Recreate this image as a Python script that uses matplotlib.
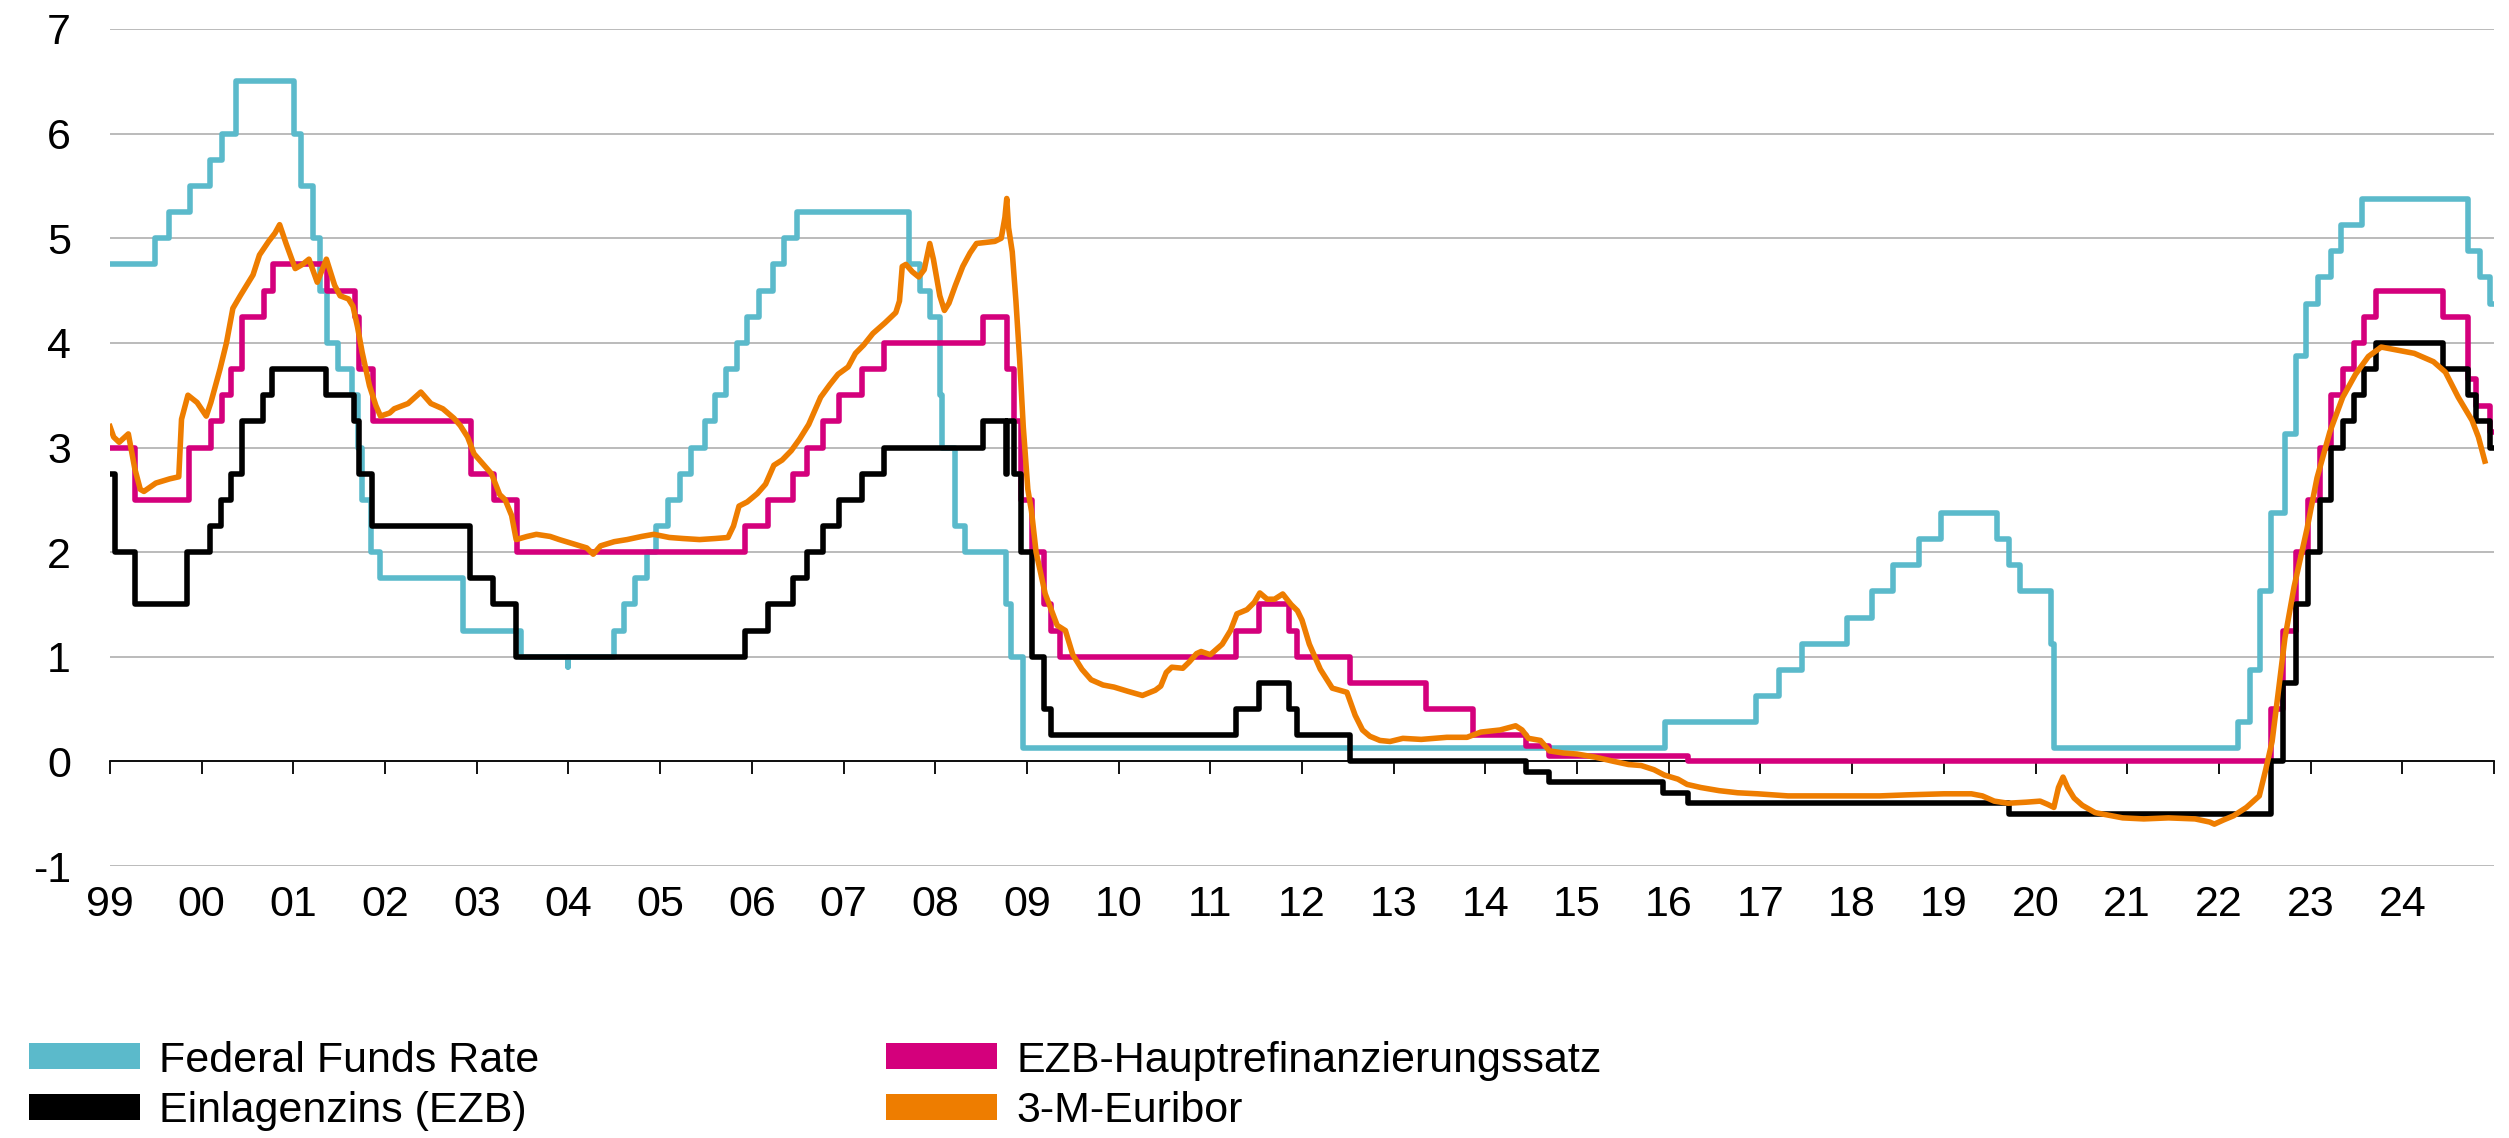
import matplotlib
matplotlib.use("Agg")
import matplotlib.pyplot as plt
from matplotlib.patches import Patch
import pandas as pd

plt.rcParams['font.family'] = ['Liberation Sans', 'DejaVu Sans']
plt.rcParams['axes.unicode_minus'] = False

END = "2024-12-31"

# Federal Funds Rate (target, midpoint of range after 2008)
ffr_dates = ["1999-01-01", "1999-06-30", "1999-08-24", "1999-11-16", "2000-02-02", "2000-03-21",
             "2000-05-16", "2001-01-03", "2001-01-31", "2001-03-20", "2001-04-18", "2001-05-15",
             "2001-06-27", "2001-08-21", "2001-09-17", "2001-10-02", "2001-11-06", "2001-12-11",
             "2002-11-06", "2003-06-25", "2003-12-31", "2004-01-01", "2004-06-30", "2004-08-10",
             "2004-09-21", "2004-11-10", "2004-12-14", "2005-02-02", "2005-03-22", "2005-05-03",
             "2005-06-30", "2005-08-09", "2005-09-20", "2005-11-01", "2005-12-13", "2006-01-31",
             "2006-03-28", "2006-05-10", "2006-06-29", "2007-09-18", "2007-10-31", "2007-12-11",
             "2008-01-22", "2008-01-30", "2008-03-18", "2008-04-30", "2008-10-08", "2008-10-29",
             "2008-12-16", "2015-12-16", "2016-12-14", "2017-03-15", "2017-06-14", "2017-12-13",
             "2018-03-21", "2018-06-13", "2018-09-26", "2018-12-19", "2019-07-31", "2019-09-18",
             "2019-10-30", "2020-03-03", "2020-03-15", "2022-03-16", "2022-05-04", "2022-06-15",
             "2022-07-27", "2022-09-21", "2022-11-02", "2022-12-14", "2023-02-01", "2023-03-22",
             "2023-05-03", "2023-07-26", "2024-09-18", "2024-11-07", "2024-12-18"]
ffr_vals = [4.75, 5.00, 5.25, 5.50, 5.75, 6.00,
            6.50, 6.00, 5.50, 5.00, 4.50, 4.00,
            3.75, 3.50, 3.00, 2.50, 2.00, 1.75,
            1.25, 1.00, 0.90, 1.00, 1.25, 1.50,
            1.75, 2.00, 2.25, 2.50, 2.75, 3.00,
            3.25, 3.50, 3.75, 4.00, 4.25, 4.50,
            4.75, 5.00, 5.25, 4.75, 4.50, 4.25,
            3.50, 3.00, 2.25, 2.00, 1.50, 1.00,
            0.125, 0.375, 0.625, 0.875, 1.125, 1.375,
            1.625, 1.875, 2.125, 2.375, 2.125, 1.875,
            1.625, 1.125, 0.125, 0.375, 0.875, 1.625,
            2.375, 3.125, 3.875, 4.375, 4.625, 4.875,
            5.125, 5.375, 4.875, 4.625, 4.375]

# EZB-Hauptrefinanzierungssatz
mro_dates = ["1999-01-01", "1999-04-09", "1999-11-10", "2000-02-09", "2000-03-22", "2000-04-28",
             "2000-06-09", "2000-09-06", "2000-10-11", "2001-05-15", "2001-09-05", "2001-09-18",
             "2001-11-14", "2002-12-11", "2003-03-12", "2003-06-09", "2005-12-06", "2006-03-08",
             "2006-06-15", "2006-08-09", "2006-10-11", "2006-12-13", "2007-03-14", "2007-06-13",
             "2008-07-09", "2008-10-15", "2008-11-12", "2008-12-10", "2009-01-21", "2009-03-11",
             "2009-04-08", "2009-05-13", "2011-04-13", "2011-07-13", "2011-11-09", "2011-12-14",
             "2012-07-11", "2013-05-08", "2013-11-13", "2014-06-11", "2014-09-10", "2016-03-16",
             "2022-07-27", "2022-09-14", "2022-11-02", "2022-12-21", "2023-02-08", "2023-03-22",
             "2023-05-10", "2023-06-21", "2023-08-02", "2023-09-20", "2024-06-12", "2024-09-18",
             "2024-10-23", "2024-12-18"]
mro_vals = [3.00, 2.50, 3.00, 3.25, 3.50, 3.75,
            4.25, 4.50, 4.75, 4.50, 4.25, 3.75,
            3.25, 2.75, 2.50, 2.00, 2.25, 2.50,
            2.75, 3.00, 3.25, 3.50, 3.75, 4.00,
            4.25, 3.75, 3.25, 2.50, 2.00, 1.50,
            1.25, 1.00, 1.25, 1.50, 1.25, 1.00,
            0.75, 0.50, 0.25, 0.15, 0.05, 0.00,
            0.50, 1.25, 2.00, 2.50, 3.00, 3.50,
            3.75, 4.00, 4.25, 4.50, 4.25, 3.65,
            3.40, 3.15]

# Einlagenzins (EZB)
dep_dates = ["1999-01-01", "1999-01-22", "1999-04-09", "1999-11-05", "2000-02-04", "2000-03-17",
             "2000-04-28", "2000-06-09", "2000-09-01", "2000-10-06", "2001-05-11", "2001-08-31",
             "2001-09-18", "2001-11-09", "2002-12-06", "2003-03-07", "2003-06-06", "2005-12-06",
             "2006-03-08", "2006-06-15", "2006-08-09", "2006-10-11", "2006-12-13", "2007-03-14",
             "2007-06-13", "2008-07-09", "2008-10-09", "2008-10-15", "2008-11-12", "2008-12-10",
             "2009-01-21", "2009-03-11", "2009-04-08", "2011-04-13", "2011-07-13", "2011-11-09",
             "2011-12-14", "2012-07-11", "2014-06-11", "2014-09-10", "2015-12-09", "2016-03-16",
             "2019-09-18", "2022-07-27", "2022-09-14", "2022-11-02", "2022-12-21", "2023-02-08",
             "2023-03-22", "2023-05-10", "2023-06-21", "2023-08-02", "2023-09-20", "2024-06-12",
             "2024-09-18", "2024-10-23", "2024-12-18"]
dep_vals = [2.75, 2.00, 1.50, 2.00, 2.25, 2.50,
            2.75, 3.25, 3.50, 3.75, 3.50, 3.25,
            2.75, 2.25, 1.75, 1.50, 1.00, 1.25,
            1.50, 1.75, 2.00, 2.25, 2.50, 2.75,
            3.00, 3.25, 2.75, 3.25, 2.75, 2.00,
            1.00, 0.50, 0.25, 0.50, 0.75, 0.50,
            0.25, 0.00, -0.10, -0.20, -0.30, -0.40,
            -0.50, 0.00, 0.75, 1.50, 2.00, 2.50,
            3.00, 3.25, 3.50, 3.75, 4.00, 3.75,
            3.50, 3.25, 3.00]

# 3-M-Euribor (decimal year, percent)
eur_t = [1999.00, 1999.04, 1999.10, 1999.20, 1999.27, 1999.33, 1999.37, 1999.50, 1999.65, 1999.75,
         1999.78, 1999.85, 1999.95, 2000.05, 2000.10, 2000.20, 2000.27, 2000.34, 2000.42, 2000.49,
         2000.56, 2000.63, 2000.73, 2000.80, 2000.85, 2000.92, 2001.02, 2001.10, 2001.17, 2001.26,
         2001.36, 2001.45, 2001.51, 2001.60, 2001.65, 2001.70, 2001.75, 2001.83, 2001.90, 2001.95,
         2002.05, 2002.10, 2002.25, 2002.39, 2002.50, 2002.63, 2002.75, 2002.82, 2002.90, 2002.97,
         2003.08, 2003.16, 2003.25, 2003.31, 2003.38, 2003.43, 2003.55, 2003.65, 2003.80, 2003.90,
         2004.05, 2004.20, 2004.27, 2004.35, 2004.50, 2004.64, 2004.80, 2004.93, 2005.10, 2005.25,
         2005.43, 2005.60, 2005.74, 2005.80, 2005.86, 2005.95, 2006.06, 2006.15, 2006.24, 2006.33,
         2006.43, 2006.52, 2006.62, 2006.75, 2006.85, 2006.94, 2007.05, 2007.13, 2007.22, 2007.32,
         2007.45, 2007.57, 2007.61, 2007.64, 2007.68, 2007.75, 2007.82, 2007.88, 2007.94, 2007.98,
         2008.05, 2008.10, 2008.15, 2008.22, 2008.30, 2008.38, 2008.45, 2008.55, 2008.65, 2008.72,
         2008.76, 2008.78, 2008.80, 2008.84, 2008.88, 2008.92, 2008.96, 2009.01, 2009.05, 2009.10,
         2009.20, 2009.33, 2009.42, 2009.50, 2009.60, 2009.70, 2009.83, 2009.95, 2010.10, 2010.26,
         2010.40, 2010.46, 2010.52, 2010.58, 2010.70, 2010.77, 2010.85, 2010.90, 2011.00, 2011.13,
         2011.22, 2011.29, 2011.40, 2011.48, 2011.54, 2011.62, 2011.70, 2011.79, 2011.88, 2011.95,
         2012.00, 2012.08, 2012.20, 2012.33, 2012.49, 2012.58, 2012.66, 2012.74, 2012.85, 2012.96,
         2013.10, 2013.30, 2013.58, 2013.80, 2013.95, 2014.16, 2014.33, 2014.40, 2014.47, 2014.60,
         2014.70, 2014.85, 2015.00, 2015.20, 2015.40, 2015.56, 2015.70, 2015.84, 2015.95, 2016.10,
         2016.20, 2016.35, 2016.55, 2016.75, 2016.97, 2017.30, 2017.60, 2017.96, 2018.30, 2018.60,
         2019.00, 2019.30, 2019.42, 2019.55, 2019.70, 2019.90, 2020.05, 2020.13, 2020.20, 2020.25,
         2020.30, 2020.35, 2020.42, 2020.51, 2020.65, 2020.83, 2020.95, 2021.18, 2021.45, 2021.74,
         2021.90, 2021.95, 2022.05, 2022.16, 2022.30, 2022.44, 2022.51, 2022.58, 2022.65, 2022.72,
         2022.82, 2022.96, 2023.07, 2023.21, 2023.35, 2023.49, 2023.63, 2023.77, 2023.95, 2024.13,
         2024.34, 2024.47, 2024.61, 2024.76, 2024.83, 2024.90]
eur_vals = [3.20, 3.10, 3.05, 3.13, 2.80, 2.60, 2.58, 2.66, 2.70, 2.72,
            3.27, 3.50, 3.43, 3.30, 3.43, 3.75, 4.00, 4.33, 4.45, 4.55,
            4.65, 4.84, 4.97, 5.05, 5.13, 4.95, 4.71, 4.75, 4.80, 4.58,
            4.80, 4.55, 4.45, 4.42, 4.35, 4.15, 3.91, 3.59, 3.40, 3.30,
            3.33, 3.37, 3.42, 3.53, 3.42, 3.37, 3.28, 3.21, 3.10, 2.94,
            2.83, 2.75, 2.55, 2.50, 2.35, 2.12, 2.15, 2.17, 2.15, 2.12,
            2.08, 2.04, 1.98, 2.06, 2.10, 2.12, 2.15, 2.17, 2.14, 2.13,
            2.12, 2.13, 2.14, 2.25, 2.44, 2.48, 2.56, 2.65, 2.83, 2.88,
            2.97, 3.08, 3.22, 3.48, 3.60, 3.70, 3.77, 3.90, 3.98, 4.09,
            4.19, 4.29, 4.40, 4.73, 4.75, 4.68, 4.63, 4.70, 4.95, 4.80,
            4.45, 4.31, 4.38, 4.55, 4.73, 4.86, 4.95, 4.96, 4.97, 5.00,
            5.20, 5.38, 5.10, 4.87, 4.40, 3.85, 3.20, 2.60, 2.39, 2.00,
            1.60, 1.30, 1.25, 1.02, 0.88, 0.78, 0.73, 0.71, 0.67, 0.63,
            0.68, 0.72, 0.85, 0.90, 0.89, 0.95, 1.03, 1.05, 1.02, 1.12,
            1.25, 1.41, 1.45, 1.52, 1.61, 1.55, 1.55, 1.60, 1.50, 1.44,
            1.35, 1.12, 0.88, 0.70, 0.66, 0.44, 0.30, 0.24, 0.20, 0.19,
            0.22, 0.21, 0.23, 0.23, 0.28, 0.30, 0.34, 0.30, 0.22, 0.20,
            0.10, 0.08, 0.07, 0.04, 0.00, -0.03, -0.04, -0.08, -0.13, -0.17,
            -0.22, -0.25, -0.28, -0.30, -0.31, -0.33, -0.33, -0.33, -0.33, -0.32,
            -0.31, -0.31, -0.33, -0.38, -0.40, -0.39, -0.38, -0.41, -0.44, -0.25,
            -0.15, -0.25, -0.35, -0.42, -0.49, -0.52, -0.54, -0.55, -0.54, -0.55,
            -0.58, -0.60, -0.56, -0.52, -0.44, -0.33, -0.08, 0.19, 0.68, 1.18,
            1.67, 2.22, 2.71, 3.15, 3.48, 3.70, 3.87, 3.96, 3.93, 3.90,
            3.82, 3.72, 3.48, 3.26, 3.10, 2.87]

years = list(range(1999, 2026))
year_labels = [f"{y % 100:02d}" for y in range(1999, 2025)]

labels = ["Federal Funds Rate", "Einlagenzins (EZB)", "EZB-Hauptrefinanzierungssatz", "3-M-Euribor"]
colors = ["#5BBACB", "#000000", "#D4007C", "#EE7D00"]


def dec_year(dates):
    d = pd.to_datetime(dates)
    return (d.year + (d.dayofyear - 1) / (365 + d.is_leap_year)).to_numpy()


def step_xy(dates, vals):
    return dec_year(dates + [END]), vals + [vals[-1]]


W, H = 2509, 1138
fig = plt.figure(figsize=(W / 100, H / 100), dpi=100)
ax = fig.add_axes([110 / W, (H - 866) / H, (2494 - 110) / W, (866 - 29) / H])

lw = 4.0
x, y = step_xy(ffr_dates, ffr_vals)
ax.step(x, y, where="post", color=colors[0], lw=lw, zorder=3)
x, y = step_xy(mro_dates, mro_vals)
ax.step(x, y, where="post", color=colors[2], lw=lw, zorder=4)
x, y = step_xy(dep_dates, dep_vals)
ax.step(x, y, where="post", color=colors[1], lw=lw, zorder=5)
ax.plot(eur_t, eur_vals, color=colors[3], lw=lw, zorder=6)

ax.set_xlim(1999, 2025)
ax.set_ylim(-1, 7)
ax.set_yticks(range(-1, 8))
ax.yaxis.grid(True, color="#B5B5B5", lw=1.3)
ax.set_axisbelow(True)
ax.tick_params(axis="y", length=0, pad=28, labelsize=31)

for s in ["top", "right", "left"]:
    ax.spines[s].set_visible(False)
ax.spines["bottom"].set_position(("data", 0))
ax.spines["bottom"].set_linewidth(1.3)
ax.spines["bottom"].set_zorder(2.5)
ax.set_xticks(years)
ax.tick_params(axis="x", direction="out", length=9.5, width=1.3, labelbottom=False)

sec = ax.secondary_xaxis("bottom")
sec.set_xticks(range(1999, 2025), year_labels)
sec.tick_params(length=0, pad=14, labelsize=31)
sec.spines["bottom"].set_visible(False)

handles = [Patch(facecolor=c, edgecolor="none") for c in colors]
leg_kw = dict(frameon=False, fontsize=31, handlelength=2.57, handleheight=0.55,
              handletextpad=0.45, labelspacing=0.25, borderpad=0, borderaxespad=0,
              loc="center left")
leg1 = fig.legend(handles[:2], labels[:2], bbox_to_anchor=(29 / W, (H - 1086) / H), **leg_kw)
leg2 = fig.legend(handles[2:], labels[2:], bbox_to_anchor=(886 / W, (H - 1086) / H), **leg_kw)

fig.savefig("out.png", dpi=100)
